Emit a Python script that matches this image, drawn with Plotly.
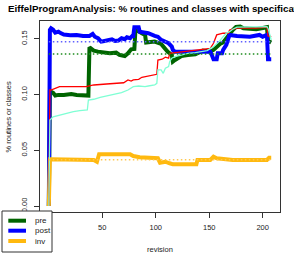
import plotly.graph_objects as go

# ---------------- data ----------------
post_rev = [0, 1, 2, 4, 6, 9, 11, 14, 20, 26, 32, 38, 41, 43, 46, 49, 52, 59, 62, 65, 68, 71, 73, 76, 78, 79,
            80, 84, 85, 90, 93, 99, 102, 105, 109, 112, 115, 116, 118, 131, 137, 145, 151, 153, 154, 157,
            158, 162, 163, 166, 168, 169, 176, 188, 197, 200, 204, 205, 208]
post_val = [0.0, 0.158, 0.1594, 0.158, 0.1554, 0.1563, 0.155, 0.1537, 0.1531, 0.1534, 0.1525, 0.1525, 0.1543,
            0.1518, 0.1504, 0.1474, 0.148, 0.1495, 0.148, 0.1483, 0.1504, 0.1495, 0.1513, 0.1504, 0.1525, 0.1525,
            0.1603, 0.1603, 0.1563, 0.1555, 0.1549, 0.1525, 0.1518, 0.1489, 0.1474, 0.1459, 0.1429, 0.1399,
            0.1384, 0.139, 0.1384, 0.1384, 0.1384, 0.134, 0.1316, 0.1316, 0.137, 0.137, 0.1399, 0.1444, 0.1489,
            0.1534, 0.1525, 0.1518, 0.1534, 0.1518, 0.1534, 0.1316, 0.1316]

pre_rev = [0, 1, 2, 4, 6, 9, 14, 21, 26, 32, 37, 38, 39, 42, 46, 51, 57, 63, 66, 71, 74, 77, 80, 81, 82, 87,
           90, 91, 99, 105, 108, 111, 115, 116, 118, 121, 124, 130, 137, 144, 151, 154, 157, 160, 163, 166,
           169, 172, 175, 179, 182, 188, 194, 199, 204, 205, 208]
pre_val = [0.0, 0.1025, 0.1025, 0.1015, 0.099, 0.0996, 0.0996, 0.1005, 0.0996, 0.099, 0.099, 0.1423, 0.1414,
           0.1393, 0.1384, 0.1375, 0.137, 0.1375, 0.1354, 0.1345, 0.1369, 0.1405, 0.1408, 0.1578, 0.1578,
           0.1549, 0.1534, 0.1465, 0.1474, 0.1453, 0.1414, 0.1384, 0.1354, 0.1294, 0.1309, 0.1325, 0.1345,
           0.1354, 0.1361, 0.1393, 0.1384, 0.1399, 0.1429, 0.1453, 0.1466, 0.1504, 0.1549, 0.1578, 0.1605,
           0.1608, 0.1594, 0.1585, 0.1585, 0.1594, 0.1603, 0.148, 0.1465]

inv_rev = [0, 1, 2, 42, 45, 47, 76, 79, 85, 102, 104, 109, 113, 116, 138, 139, 151, 154, 157, 169, 172, 204,
           206, 208]
inv_val = [0.0, 0.0419, 0.0419, 0.0413, 0.0397, 0.0464, 0.0464, 0.0448, 0.0437, 0.0428, 0.0388, 0.0397,
           0.0383, 0.0374, 0.0374, 0.0413, 0.0413, 0.0442, 0.0428, 0.0419, 0.0413, 0.0413, 0.0433, 0.0433]

red_rev = [0, 1, 2, 7, 10, 35, 37, 42, 54, 62, 67, 70, 74, 77, 79, 84, 87, 92, 96, 101, 102, 106, 109, 112,
           113, 118, 124, 130, 137, 144, 151, 154, 157, 163, 168, 169, 176, 194, 204, 205, 208]
red_val = [0.0, 0.104, 0.104, 0.1056, 0.107, 0.107, 0.1076, 0.1085, 0.1094, 0.11, 0.11, 0.1105, 0.113, 0.112,
           0.113, 0.1136, 0.1154, 0.1166, 0.1175, 0.1181, 0.1309, 0.1316, 0.1334, 0.1325, 0.1369, 0.1375,
           0.1381, 0.1384, 0.1393, 0.1405, 0.1414, 0.1459, 0.1534, 0.1549, 0.1549, 0.1578, 0.1594, 0.1594,
           0.1603, 0.1525, 0.1518]

aqua_rev = [0, 1, 4, 10, 17, 23, 29, 34, 36, 37, 42, 48, 54, 60, 62, 66, 68, 74, 79, 84, 90, 93, 99, 101, 102,
            105, 107, 109, 112, 113, 115, 118, 124, 130, 137, 140, 148, 154, 157, 160, 163, 166, 169, 172,
            176, 194, 204, 205, 208]
aqua_val = [0.0, 0.077, 0.08, 0.0816, 0.0831, 0.0846, 0.0855, 0.0861, 0.0861, 0.095, 0.0957, 0.0975, 0.0987,
            0.1004, 0.1004, 0.1016, 0.1016, 0.104, 0.107, 0.1076, 0.107, 0.1076, 0.1085, 0.11, 0.122, 0.122,
            0.119, 0.1235, 0.125, 0.1294, 0.1325, 0.1339, 0.1354, 0.1369, 0.1375, 0.138, 0.1393, 0.1429,
            0.1453, 0.1482, 0.1518, 0.1549, 0.1563, 0.1585, 0.1603, 0.1603, 0.1608, 0.1594, 0.1489]

mean_span = [0, 208]
post_mean = 0.1473
pre_mean = 0.1363
inv_mean = 0.0415

legend_names = ["pre", "post", "inv"]

x_ticks = [50, 100, 150, 200]
y_ticks = [0.0, 0.05, 0.10, 0.15]
y_tick_text = ["0.00", "0.05", "0.10", "0.15"]

title_text = "EiffelProgramAnalysis: % routines and classes with specification"
x_title = "revision"
y_title = "% routines or classes"

# ---------------- style ----------------
C_PRE = "#006400"
C_POST = "#0000FF"
C_INV = "#FFB90F"
C_RED = "#FF0000"
C_AQUA = "#7FFFD4"
C_POST_DOT = "#6060FF"
C_PRE_DOT = "#1E8C1E"
C_INV_DOT = "#FFC850"
FONT = "Liberation Sans, Arial, Helvetica, sans-serif"
W, H = 294, 254
L, R, T, B = 40, 14, 21, 42
PW, PH = W - L - R, H - T - B


def px(x):
    return (x - L) / PW


def py(y):
    return (H - B - y) / PH


fig = go.Figure()
fig.add_trace(go.Scatter(x=pre_rev, y=pre_val, mode="lines", line=dict(color=C_PRE, width=4), name="pre"))
fig.add_trace(go.Scatter(x=post_rev, y=post_val, mode="lines", line=dict(color=C_POST, width=4), name="post"))
fig.add_trace(go.Scatter(x=inv_rev, y=inv_val, mode="lines", line=dict(color=C_INV, width=4), name="inv"))
fig.add_trace(go.Scatter(x=red_rev, y=red_val, mode="lines", line=dict(color=C_RED, width=1.3)))
fig.add_trace(go.Scatter(x=aqua_rev, y=aqua_val, mode="lines", line=dict(color=C_AQUA, width=1.3)))
for m, c in [(post_mean, C_POST_DOT), (pre_mean, C_PRE_DOT), (inv_mean, C_INV_DOT)]:
    fig.add_trace(go.Scatter(x=mean_span, y=[m, m], mode="lines",
                             line=dict(color=c, width=1.5, dash="1.5px,2.5px")))

axis_common = dict(showgrid=False, zeroline=False, showline=True, mirror=True, linecolor="#333",
                   linewidth=1, ticks="outside", ticklen=5, tickcolor="#333", tickwidth=1,
                   tickfont=dict(family=FONT, size=7.5, color="#222"))
fig.update_xaxes(range=[-8.26, 216.2], tickvals=x_ticks, ticklabelstandoff=3, **axis_common)
fig.update_yaxes(range=[-0.00538, 0.16587], tickvals=y_ticks, ticktext=y_tick_text, tickangle=-90,
                 ticklabelstandoff=4, **axis_common)

annotations = [
    dict(text="<b>" + title_text + "</b>", x=0.5, y=py(9), xref="paper", yref="paper",
         xanchor="center", yanchor="middle", showarrow=False,
         font=dict(family=FONT, size=9.8, color="#000")),
    dict(text=x_title, x=0.5, y=py(249), xref="paper", yref="paper", xanchor="center",
         yanchor="middle", showarrow=False, font=dict(family=FONT, size=7.5, color="#222")),
    dict(text=y_title, x=px(8), y=0.5, xref="paper", yref="paper", xanchor="center",
         yanchor="middle", textangle=-90, showarrow=False, font=dict(family=FONT, size=7.5, color="#222")),
]

shapes = [dict(type="rect", xref="paper", yref="paper", x0=px(2), x1=px(52), y0=py(211), y1=py(252),
               fillcolor="white", line=dict(color="#333", width=1), layer="above")]
for name, c, yy in zip(legend_names, [C_PRE, C_POST, C_INV], [220.7, 230.7, 241]):
    shapes.append(dict(type="line", xref="paper", yref="paper", x0=px(8.3), x1=px(26), y0=py(yy), y1=py(yy),
                       line=dict(color=c, width=4), layer="above"))
    annotations.append(dict(text=name, x=px(32.7), y=py(yy), xref="paper", yref="paper", xanchor="left",
                            yanchor="middle", showarrow=False,
                            font=dict(family=FONT, size=8, color="#222")))

fig.update_layout(width=W, height=H, margin=dict(l=L, r=R, t=T, b=B), paper_bgcolor="white",
                  plot_bgcolor="white", showlegend=False, annotations=annotations, shapes=shapes)
fig.write_html("out.html", config={"displayModeBar": False},
               post_script="document.body.style.margin='0';document.body.style.overflow='hidden';")
